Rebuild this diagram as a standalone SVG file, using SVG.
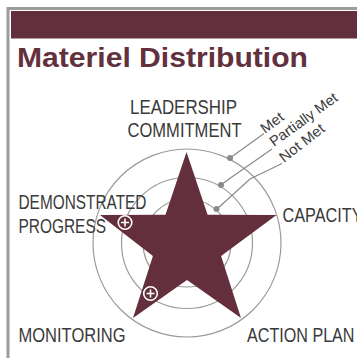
<svg xmlns="http://www.w3.org/2000/svg" width="357" height="358" viewBox="0 0 357 358">
<style>
.lbl{font-family:"Liberation Sans",Arial,sans-serif;font-size:19.5px;fill:#3a3a3a}
.sm{font-family:"Liberation Sans",Arial,sans-serif;font-size:14.5px;fill:#3a3a3a}
.ring{fill:none;stroke:#9a9a9a;stroke-width:1.2}
.lead{fill:none;stroke:#8a8a8a;stroke-width:1.2}
.dot{fill:#8a8a8a}
.plus{fill:none;stroke:#fff;stroke-width:1.6}
</style>
<rect width="357" height="358" fill="#fff"/>
<g id="frame">
<rect x="8" y="8.5" width="360" height="360" fill="none" stroke="#9c9c9c" stroke-width="3"/>
<rect x="11" y="11" width="346" height="27.5" fill="#622f3c"/>
<text x="17" y="67" font-family="'Liberation Sans',Arial,sans-serif" font-weight="bold" font-size="27.5" fill="#63303d" textLength="291" lengthAdjust="spacingAndGlyphs">Materiel Distribution</text>
</g>
<g id="rings">
<circle class="ring" cx="187" cy="243" r="94"/>
<circle class="ring" cx="187" cy="243" r="65.5"/>
<circle class="ring" cx="187" cy="243" r="44"/>
</g>
<g id="star">
<polygon fill="#642f3c" points="186.5,152 207.6,214.8 276.5,215 221.1,255.9 241,318 187,280 133,318 152.9,255.9 100,215 165.5,214.8"/>
<g id="plus1"><circle class="plus" cx="125" cy="222.5" r="6.8"/><path class="plus" d="M121,222.5H129M125,218.5V226.5"/></g>
<g id="plus2"><circle class="plus" cx="150.5" cy="293.5" r="6.8"/><path class="plus" d="M146.5,293.5H154.5M150.5,289.5V297.5"/></g>
</g>
<g id="connectors">
<path class="lead" d="M230,158L264,133.5"/>
<path class="lead" d="M221,185L229,179L272,149"/>
<path class="lead" d="M217,209L250,179L282,163.5"/>
<circle class="dot" cx="230" cy="158" r="3"/>
<circle class="dot" cx="221" cy="185" r="3"/>
<circle class="dot" cx="216.5" cy="209" r="3"/>
</g>
<g id="legend">
<text class="sm" transform="translate(265,134) rotate(-37)" textLength="25" lengthAdjust="spacingAndGlyphs">Met</text>
<text class="sm" transform="translate(274,147) rotate(-36)" textLength="80" lengthAdjust="spacingAndGlyphs">Partially Met</text>
<text class="sm" transform="translate(284,163) rotate(-38)" textLength="53" lengthAdjust="spacingAndGlyphs">Not Met</text>
</g>
<g id="leadership"><text class="lbl" x="130" y="113.5" textLength="107" lengthAdjust="spacingAndGlyphs">LEADERSHIP</text>
<text class="lbl" x="127.5" y="137" textLength="114" lengthAdjust="spacingAndGlyphs">COMMITMENT</text></g>
<g id="progress"><text class="lbl" x="18.5" y="209.3" textLength="128" lengthAdjust="spacingAndGlyphs">DEMONSTRATED</text>
<text class="lbl" x="18.5" y="233.3" textLength="87.5" lengthAdjust="spacingAndGlyphs">PROGRESS</text></g>
<g id="capacity"><text class="lbl" x="282.5" y="222.3" textLength="80" lengthAdjust="spacingAndGlyphs">CAPACITY</text></g>
<g id="monitoring"><text class="lbl" x="18.5" y="341.7" textLength="107" lengthAdjust="spacingAndGlyphs">MONITORING</text></g>
<g id="actionplan"><text class="lbl" x="247" y="341.7" textLength="107.5" lengthAdjust="spacingAndGlyphs">ACTION PLAN</text></g>
</svg>
